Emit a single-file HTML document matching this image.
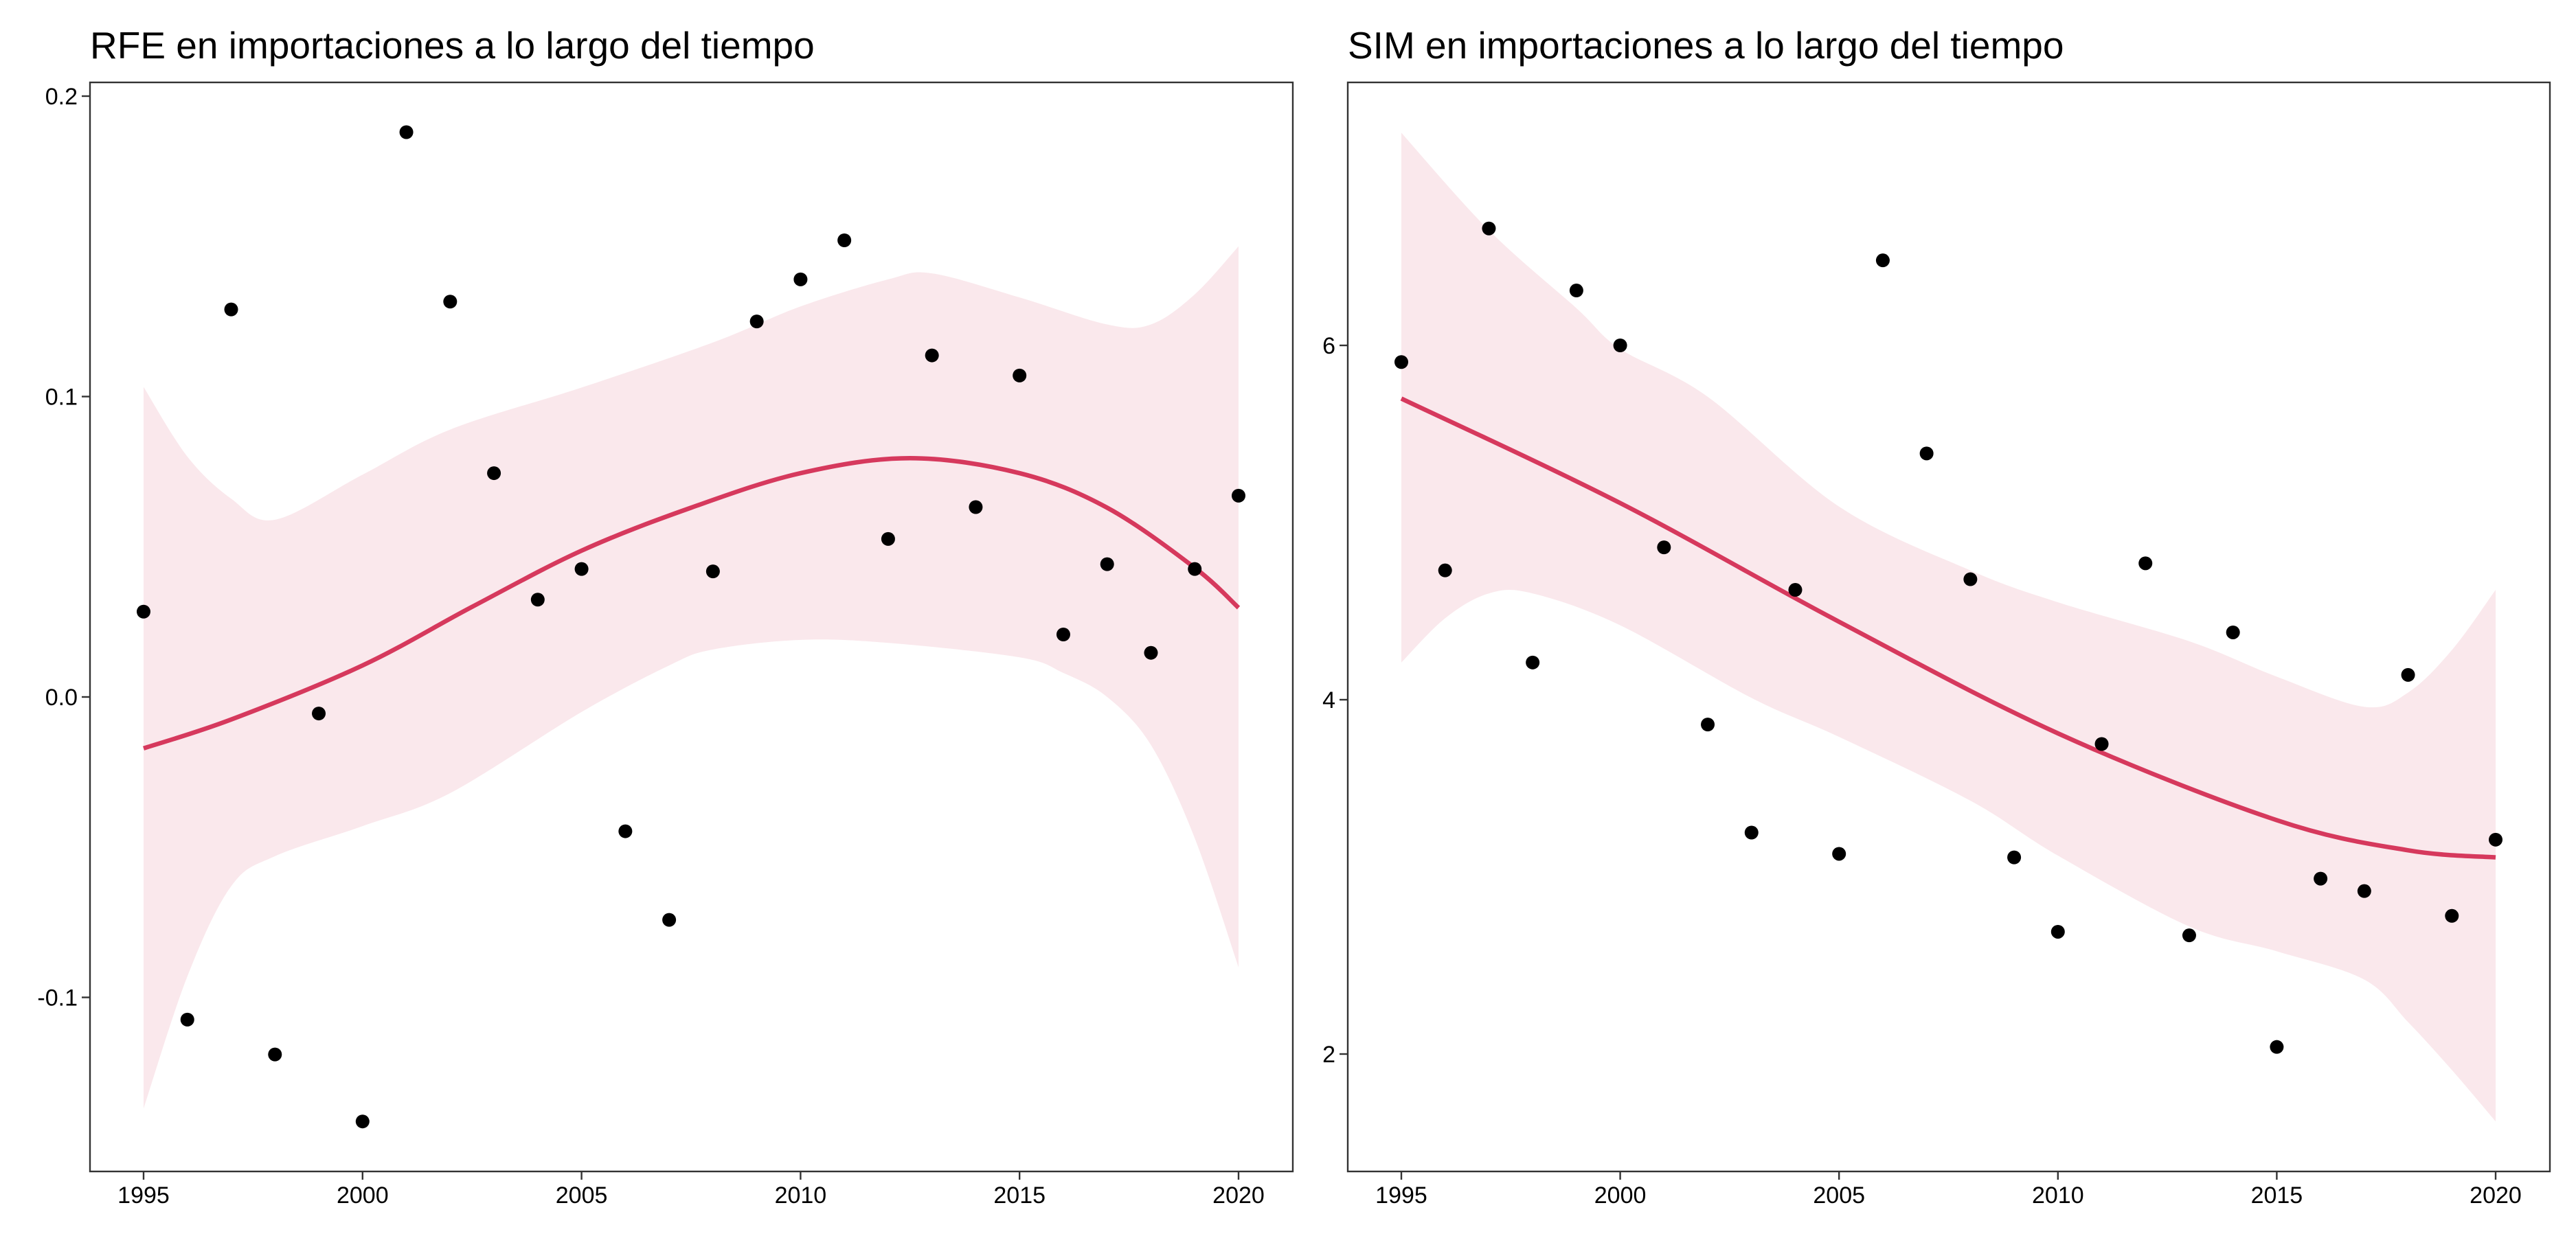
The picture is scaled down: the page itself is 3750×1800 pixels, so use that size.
<!DOCTYPE html>
<html><head><meta charset="utf-8"><style>
html,body{margin:0;padding:0;background:#fff;}
svg{display:block;font-family:"Liberation Sans",Arial,sans-serif;}
</style></head><body>
<svg id="chart" width="3750" height="1800" viewBox="0 0 3750 1800"></svg>
<script>
const years=[1995,1996,1997,1998,1999,2000,2001,2002,2003,2004,2005,2006,2007,2008,2009,2010,2011,2012,2013,2014,2015,2016,2017,2018,2019,2020];
const rfeValues=[0.0284,-0.1074,0.129,-0.119,-0.0055,-0.1413,0.188,0.1316,0.0745,0.0324,0.0426,-0.0447,-0.0742,0.0418,0.125,0.139,0.152,0.0526,0.1137,0.0632,0.107,0.0208,0.0442,0.0147,0.0426,0.067];
const simValues=[5.906,4.73,6.66,4.21,6.31,6.00,4.86,3.86,3.25,4.62,3.13,6.48,5.39,4.68,3.11,2.69,3.75,4.77,2.67,4.38,2.04,2.99,2.92,4.14,2.78,3.21];
const rfeFitX=[1995,1997,2000,2002.5,2005,2007.5,2010,2012.5,2015,2017,2019,2020];
const rfeFitY=[-0.0171,-0.0075,0.0105,0.030,0.0487,0.063,0.0745,0.0795,0.0745,0.063,0.043,0.0297];
const rfeUpX=[1995,1996,1997,1998,2000,2002,2005,2008,2010,2012,2013,2015,2017,2018,2019,2020];
const rfeUpY=[0.1032,0.080,0.066,0.059,0.074,0.089,0.103,0.118,0.130,0.139,0.141,0.133,0.124,0.124,0.134,0.150];
const rfeLoX=[1995,1996,1997,1998,2000,2002,2005,2007,2008,2010,2012,2015,2016,2017,2018,2019,2020];
const rfeLoY=[-0.137,-0.093,-0.063,-0.053,-0.043,-0.032,-0.005,0.0105,0.0158,0.019,0.018,0.0132,0.008,0,-0.016,-0.047,-0.090];
const simFitX=[1995,2000,2005,2010,2015,2018,2020];
const simFitY=[5.70,5.11,4.44,3.81,3.32,3.15,3.11];
const simUpX=[1995,1997,1999,2000,2002,2005,2008,2010,2013,2015,2017,2018,2019,2020];
const simUpY=[7.20,6.65,6.21,5.98,5.71,5.09,4.73,4.55,4.33,4.13,3.96,4.04,4.28,4.62];
const simLoX=[1995,1996,1997,1998,2000,2003,2005,2008,2010,2013,2015,2017,2018,2019,2020];
const simLoY=[4.21,4.46,4.60,4.60,4.42,4.01,3.79,3.43,3.12,2.72,2.58,2.42,2.18,1.91,1.62];
const xTicks=[1995,2000,2005,2010,2015,2020];
const rfeTicks=[-0.1,0.0,0.1,0.2];
const rfeTickLabels=["-0.1","0.0","0.1","0.2"];
const simTicks=[2,4,6];
const simTickLabels=["2","4","6"];

const NS="http://www.w3.org/2000/svg";
const svg=document.getElementById('chart');
function mk(tag,attrs,parent){const e=document.createElementNS(NS,tag);for(const k in attrs)e.setAttribute(k,attrs[k]);(parent||svg).appendChild(e);return e;}
function cr(pts){let d=`M${pts[0][0]},${pts[0][1]}`;for(let i=0;i<pts.length-1;i++){const p0=pts[Math.max(0,i-1)],p1=pts[i],p2=pts[i+1],p3=pts[Math.min(pts.length-1,i+2)];d+=` C${p1[0]+(p2[0]-p0[0])/6},${p1[1]+(p2[1]-p0[1])/6} ${p2[0]-(p3[0]-p1[0])/6},${p2[1]-(p3[1]-p1[1])/6} ${p2[0]},${p2[1]}`;}return d;}
function panel(cfg){
  const g=mk('g',{});
  
  
  const sx=v=>cfg.x0+(v-1995)/25*(cfg.x1-cfg.x0);
  const sy=v=>cfg.yRef+(cfg.vRef-v)*cfg.ppu;
  const up=cfg.upX.map((x,i)=>[sx(x),sy(cfg.upY[i])]);
  const lo=cfg.loX.map((x,i)=>[sx(x),sy(cfg.loY[i])]).reverse();
  const band=mk('path',{d:cr(up)+' L'+cr(lo).slice(1)+' Z',fill:'#fae8ec'},g);
  
  
  const fit=mk('path',{d:cr(cfg.fitX.map((x,i)=>[sx(x),sy(cfg.fitY[i])])),fill:'none',stroke:'#d6395d','stroke-width':6.5},g);
  
  
  years.forEach((y,i)=>{const c=mk('circle',{cx:sx(y),cy:sy(cfg.vals[i]),r:10,fill:'#000'},g);
    
    });
  const fr=mk('rect',{x:cfg.L,y:120,width:cfg.R-cfg.L,height:1586,fill:'none',stroke:'#333','stroke-width':2.4},g);
  
  
  xTicks.forEach(t=>{mk('line',{x1:sx(t),x2:sx(t),y1:1706,y2:1718,stroke:'#333','stroke-width':2.4},g);
    const tx=mk('text',{x:sx(t),y:1752,'text-anchor':'middle','font-size':34,fill:'#000'},g);tx.textContent=t;
    
    });
  cfg.yTicks.forEach((t,i)=>{mk('line',{x1:cfg.L-12,x2:cfg.L,y1:sy(t),y2:sy(t),stroke:'#333','stroke-width':2.4},g);
    const tx=mk('text',{x:cfg.L-18,y:sy(t)+12,'text-anchor':'end','font-size':34,fill:'#000'},g);tx.textContent=cfg.yLabels[i];
    
    });
  const ti=mk('text',{x:cfg.L,y:85,'font-size':55,fill:'#000'},g);ti.textContent=cfg.title;
  
  
}
panel({name:'rfe-panel',L:131,R:1882,x0:209,x1:1803,yRef:1015,vRef:0,ppu:4375,vals:rfeValues,
  fitX:rfeFitX,fitY:rfeFitY,upX:rfeUpX,upY:rfeUpY,loX:rfeLoX,loY:rfeLoY,yTicks:rfeTicks,yLabels:rfeTickLabels,
  title:'RFE en importaciones a lo largo del tiempo'});
panel({name:'sim-panel',L:1962,R:3712,x0:2040,x1:3633,yRef:1019,vRef:4,ppu:258,vals:simValues,
  fitX:simFitX,fitY:simFitY,upX:simUpX,upY:simUpY,loX:simLoX,loY:simLoY,yTicks:simTicks,yLabels:simTickLabels,
  title:'SIM en importaciones a lo largo del tiempo'});
</script>
</body></html>
